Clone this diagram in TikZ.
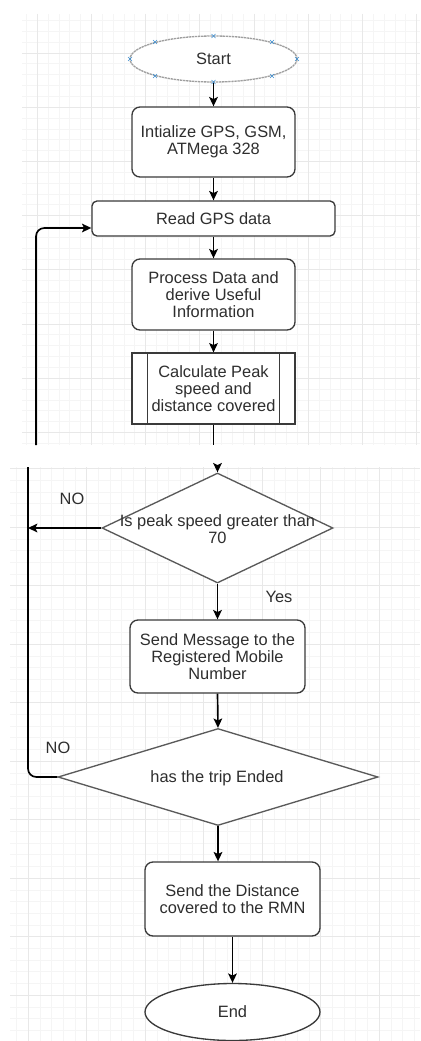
\documentclass[tikz,border=0pt]{standalone}
\usepackage{fontspec}
\setmainfont{Liberation Sans}
\usetikzlibrary{shapes.geometric,arrows.meta}
\definecolor{txtc}{HTML}{2E2E2E}
\definecolor{boxc}{HTML}{3A3A3A}
\definecolor{diac}{HTML}{5A5A5A}
\definecolor{gmin}{HTML}{F5F5F5}
\definecolor{gmaj}{HTML}{E8E8E8}
\definecolor{handle}{HTML}{3C8DD0}
\begin{document}
\begin{tikzpicture}[x=0.03cm,y=-0.03cm,
  every node/.style={font=\fontsize{14}{14.8}\selectfont, text=txtc, align=center},
  procbox/.style={draw=boxc, line width=0.4mm, rounded corners=2.4mm, fill=white, inner sep=0pt},
  subbox/.style={draw=boxc, line width=0.35mm, fill=white, inner sep=0pt},
  termbox/.style={ellipse, draw=boxc, line width=0.4mm, fill=white, inner sep=0pt},
  diabox/.style={diamond, draw=diac, line width=0.4mm, fill=white, inner sep=0pt},
  lbl/.style={inner sep=1pt},
  conn/.style={draw=black, line width=0.5mm},
  arr/.style={conn, -{Stealth[length=2.8mm,width=2.6mm,inset=0.6mm]}},
  gminor/.style={draw=gmin, line width=0.3pt},
  gmajor/.style={draw=gmaj, line width=0.4pt}]
\useasboundingbox (0,0) rectangle (420,1041);
% ---- grid of the first screenshot
\begin{scope}
  \clip (22,14) rectangle (420,445);
  \foreach \k in {-5,...,40} {\draw[gminor] ({37+\k*10.84},14) -- ({37+\k*10.84},445);}
  \foreach \k in {-10,...,33} {\draw[gminor] (22,{107+\k*10.84}) -- (420,{107+\k*10.84});}
  \foreach \k in {-1,...,8} {\draw[gmajor] ({37+\k*54.2},14) -- ({37+\k*54.2},445);}
  \foreach \k in {-2,...,7} {\draw[gmajor] (22,{107+\k*54.2}) -- (420,{107+\k*54.2});}
\end{scope}
% ---- grid of the second screenshot
\begin{scope}
  \clip (10,467) rectangle (420,1041);
  \foreach \k in {-2,...,35} {\draw[gminor] ({28+\k*11.7},467) -- ({28+\k*11.7},1041);}
  \foreach \k in {-46,...,4} {\draw[gminor] (10,{995+\k*11.7}) -- (420,{995+\k*11.7});}
  \foreach \k in {-1,...,7} {\draw[gmajor] ({28+\k*58.5},467) -- ({28+\k*58.5},1041);}
  \foreach \k in {-10,...,1} {\draw[gmajor] (10,{995+\k*58.5}) -- (420,{995+\k*58.5});}
\end{scope}
% ---- first part
\node[termbox, draw=gray!75, dash pattern=on 2pt off 0.6pt, minimum width=5.01cm, minimum height=1.38cm] (start) at (213.5,59) {Start};
\foreach \p in {(213.5,36),(213.5,82),(130,59),(297,59),(155,42),(272,42),(155,76),(272,76)} {
  \draw[handle, line width=0.5pt] \p ++(-2,-2) -- ++(4,4) \p ++(-2,2) -- ++(4,-4);
}
\node[procbox, minimum width=4.89cm, minimum height=2.1cm] (init) at (213.5,142) {Intialize GPS, GSM,\\ATMega 328};
\node[procbox, minimum width=7.29cm, minimum height=1.05cm, rounded corners=1.5mm] (read) at (213.5,218.5) {Read GPS data};
\node[procbox, minimum width=4.89cm, minimum height=2.13cm] (proc) at (213.5,294.5) {Process Data and\\derive Useful\\Information};
\node[subbox, minimum width=4.89cm, minimum height=2.13cm] (calc) at (213.5,388.5) {Calculate Peak\\speed and\\distance covered};
\draw[boxc, line width=0.35mm] ([xshift=0.48cm]calc.north west) -- ([xshift=0.48cm]calc.south west);
\draw[boxc, line width=0.35mm] ([xshift=-0.48cm]calc.north east) -- ([xshift=-0.48cm]calc.south east);
\draw[arr] (start.south) -- (init.north);
\draw[arr] (init.south) -- (read.north);
\draw[arr] (read.south) -- (proc.north);
\draw[arr] (proc.south) -- (calc.north);
\coordinate (cut1) at (213.5,445);
\draw[conn] (calc.south) -- (cut1);
\coordinate (l1bot) at (36,445);
\coordinate (l1turn) at (36,228);
\draw[arr, rounded corners=2.5mm] (l1bot) -- (l1turn) -- (read.west |- l1turn);
% ---- second part
\node[diabox, minimum width=6.93cm, minimum height=3.3cm] (d1) at (217.5,528) {};
\node (d1t) at (217.5,529) {Is peak speed greater than\\70};
\coordinate (cut2) at (217.5,465);
\draw[arr] (cut2) -- (d1.north);
\coordinate (l2top) at (28,467);
\draw[arr] (d1.west) -- (d1.west -| l2top);
\node[lbl] (no1) at (72,499) {NO};
\node[procbox, minimum width=5.25cm, minimum height=2.19cm] (msg) at (217.5,656.5) {Send Message to the\\Registered Mobile\\Number};
\draw[arr] (d1.south) -- (msg.north);
\node[lbl] (yes) at (279,597) {Yes};
\node[diabox, minimum width=9.6cm, minimum height=2.91cm] (d2) at (218,777) {};
\node (d2t) at (217,778) {has the trip Ended};
\draw[arr] (msg.south) -- (d2.north);
\draw[conn, rounded corners=2.5mm] (d2.west) -| (l2top);
\node[lbl] (no2) at (58,748) {NO};
\node[procbox, minimum width=5.25cm, minimum height=2.22cm] (dist) at (232.5,899) {Send the Distance\\covered to the RMN};
\draw[arr] (d2.south) -- (d2.south |- dist.north);
\node[termbox, minimum width=5.25cm, minimum height=1.71cm] (end) at (232.5,1012) {End};
\draw[arr] (dist.south) -- (end.north);
\end{tikzpicture}
\end{document}
